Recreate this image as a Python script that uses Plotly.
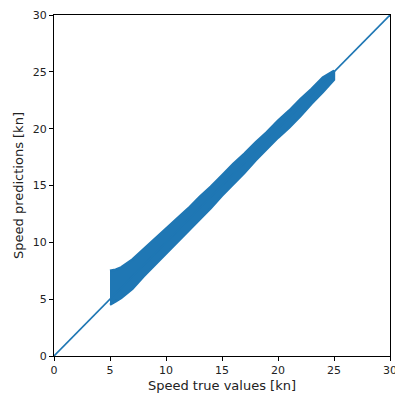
import plotly.graph_objects as go

# band of predictions (edges of the dense point cloud)
true_speed = [5, 5.5, 6, 7, 8, 9, 10, 11, 12, 13, 14, 15, 16, 17, 18, 19, 20, 21, 22, 23, 24, 25]
pred_upper = [7.5, 7.6, 7.8, 8.5, 9.4, 10.3, 11.2, 12.1, 13.0, 14.0, 14.9, 15.9, 16.9, 17.8, 18.8, 19.7, 20.7, 21.6, 22.6, 23.5, 24.5, 25.1]
pred_lower = [4.5, 4.8, 5.1, 5.9, 7.0, 8.0, 9.0, 10.0, 11.0, 12.0, 13.0, 14.1, 15.1, 16.1, 17.2, 18.2, 19.2, 20.1, 21.1, 22.2, 23.2, 24.3]

# identity line
ident = [0, 30]

ticks = [0, 5, 10, 15, 20, 25, 30]
blue = "#1f77b4"

fig = go.Figure()

# point cloud outline
fig.add_trace(go.Scatter(
    x=true_speed + true_speed[::-1],
    y=pred_upper + pred_lower[::-1],
    fill="toself", fillcolor=blue,
    mode="lines", line=dict(color=blue, width=2.4),
    hoverinfo="skip", showlegend=False,
))

fig.add_trace(go.Scatter(
    x=ident, y=ident, mode="lines",
    line=dict(color=blue, width=1.6), showlegend=False,
))

axis_style = dict(
    range=[0, 30], tickvals=ticks, showgrid=False, zeroline=False,
    showline=True, mirror=True, linecolor="black", linewidth=1,
    ticks="outside", ticklen=4, tickcolor="black", automargin=False,
    ticklabeloverflow="allow",
    tickfont=dict(family="DejaVu Sans", size=11, color="#222"),
)

# page body has an 8px margin: keep the figure inside the window (no scrollbar)
fig.update_layout(
    width=395, height=387,
    margin=dict(l=46, r=13, t=7, b=39),
    plot_bgcolor="white", paper_bgcolor="white",
    xaxis=dict(axis_style, title=dict(text="Speed true values [kn]", standoff=4,
               font=dict(family="DejaVu Sans", size=13, color="#222"))),
    yaxis=dict(axis_style, title=dict(text="Speed predictions [kn]", standoff=6,
               font=dict(family="DejaVu Sans", size=13, color="#222"))),
)

fig.write_html("out.html")
